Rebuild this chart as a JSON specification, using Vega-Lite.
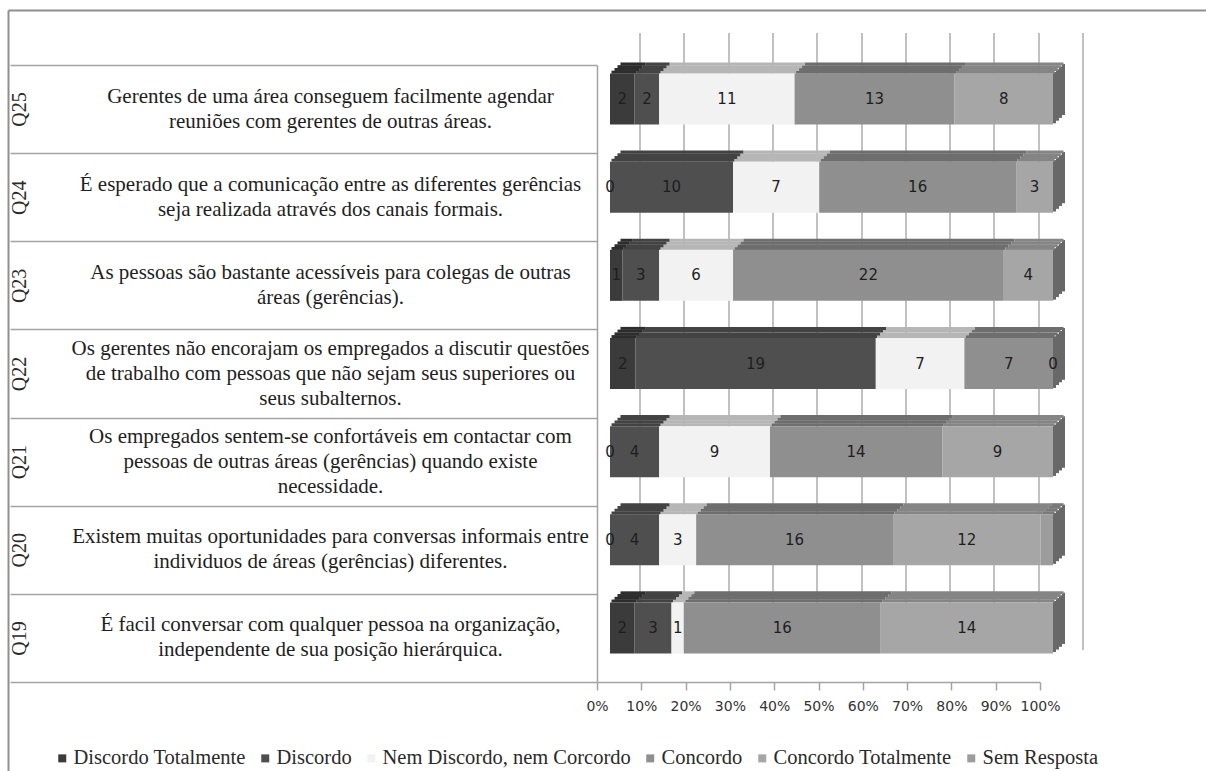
{
  "$schema": "https://vega.github.io/schema/vega-lite/v6.json",
  "width": 443,
  "height": 617,
  "autosize": "none",
  "padding": {"left": 597, "top": 65, "right": 166, "bottom": 89},
  "background": "white",
  "config": {"view": {"stroke": null}},
  "datasets": {
    "questions": [
      {"q": "Q25", "label": "Q25|Gerentes de uma área conseguem facilmente agendar|reuniões com gerentes de outras áreas."},
      {"q": "Q24", "label": "Q24|É esperado que a comunicação entre as diferentes gerências|seja realizada através dos canais formais."},
      {"q": "Q23", "label": "Q23|As pessoas são bastante acessíveis para colegas de outras|áreas (gerências)."},
      {"q": "Q22", "label": "Q22|Os gerentes não encorajam os empregados a discutir questões|de trabalho com pessoas que não sejam seus superiores ou|seus subalternos."},
      {"q": "Q21", "label": "Q21|Os empregados sentem-se confortáveis em contactar com|pessoas de outras áreas (gerências) quando existe|necessidade."},
      {"q": "Q20", "label": "Q20|Existem muitas oportunidades para conversas informais entre|individuos de áreas (gerências) diferentes."},
      {"q": "Q19", "label": "Q19|É facil conversar com qualquer pessoa na organização,|independente de sua posição hierárquica."}
    ]
  },
  "data": {"values": [
    {"q": "Q25", "cat": "Discordo Totalmente", "n": 2},
    {"q": "Q25", "cat": "Discordo", "n": 2},
    {"q": "Q25", "cat": "Nem Discordo, nem Corcordo", "n": 11},
    {"q": "Q25", "cat": "Concordo", "n": 13},
    {"q": "Q25", "cat": "Concordo Totalmente", "n": 8},
    {"q": "Q25", "cat": "Sem Resposta", "n": 0},
    {"q": "Q24", "cat": "Discordo Totalmente", "n": 0},
    {"q": "Q24", "cat": "Discordo", "n": 10},
    {"q": "Q24", "cat": "Nem Discordo, nem Corcordo", "n": 7},
    {"q": "Q24", "cat": "Concordo", "n": 16},
    {"q": "Q24", "cat": "Concordo Totalmente", "n": 3},
    {"q": "Q24", "cat": "Sem Resposta", "n": 0},
    {"q": "Q23", "cat": "Discordo Totalmente", "n": 1},
    {"q": "Q23", "cat": "Discordo", "n": 3},
    {"q": "Q23", "cat": "Nem Discordo, nem Corcordo", "n": 6},
    {"q": "Q23", "cat": "Concordo", "n": 22},
    {"q": "Q23", "cat": "Concordo Totalmente", "n": 4},
    {"q": "Q23", "cat": "Sem Resposta", "n": 0},
    {"q": "Q22", "cat": "Discordo Totalmente", "n": 2},
    {"q": "Q22", "cat": "Discordo", "n": 19},
    {"q": "Q22", "cat": "Nem Discordo, nem Corcordo", "n": 7},
    {"q": "Q22", "cat": "Concordo", "n": 7},
    {"q": "Q22", "cat": "Concordo Totalmente", "n": 0},
    {"q": "Q22", "cat": "Sem Resposta", "n": 0},
    {"q": "Q21", "cat": "Discordo Totalmente", "n": 0},
    {"q": "Q21", "cat": "Discordo", "n": 4},
    {"q": "Q21", "cat": "Nem Discordo, nem Corcordo", "n": 9},
    {"q": "Q21", "cat": "Concordo", "n": 14},
    {"q": "Q21", "cat": "Concordo Totalmente", "n": 9},
    {"q": "Q21", "cat": "Sem Resposta", "n": 0},
    {"q": "Q20", "cat": "Discordo Totalmente", "n": 0},
    {"q": "Q20", "cat": "Discordo", "n": 4},
    {"q": "Q20", "cat": "Nem Discordo, nem Corcordo", "n": 3},
    {"q": "Q20", "cat": "Concordo", "n": 16},
    {"q": "Q20", "cat": "Concordo Totalmente", "n": 12},
    {"q": "Q20", "cat": "Sem Resposta", "n": 1},
    {"q": "Q19", "cat": "Discordo Totalmente", "n": 2},
    {"q": "Q19", "cat": "Discordo", "n": 3},
    {"q": "Q19", "cat": "Nem Discordo, nem Corcordo", "n": 1},
    {"q": "Q19", "cat": "Concordo", "n": 16},
    {"q": "Q19", "cat": "Concordo Totalmente", "n": 14},
    {"q": "Q19", "cat": "Sem Resposta", "n": 0}
  ]},
  "transform": [
    {"lookup": "q", "from": {"data": {"name": "questions"}, "key": "q", "fields": ["label"]}},
    {"stack": "n", "groupby": ["q"], "offset": "normalize", "as": ["x0", "x1"]},
    {"calculate": "(datum.x0 + datum.x1) / 2", "as": "xm"}
  ],
  "layer": [
    {
      "layer": [
        {
          "transform": [{"filter": "datum.x1 > 0.9999"}],
          "mark": {"type": "bar", "height": 51, "yOffset": -11.4, "xOffset": 13, "x2Offset": 16, "color": "#686868"},
          "encoding": {
            "y": {"field": "label", "type": "nominal", "sort": null,
                  "scale": {"type": "band", "paddingInner": 0, "paddingOuter": 0},
                  "axis": {"orient": "left", "title": null, "domain": true, "domainColor": "#a3a3a3", "domainWidth": 1.5,
                           "ticks": true, "tickSize": 587, "tickBand": "extent", "tickColor": "#a3a3a3", "tickWidth": 1.5,
                           "labelExpr": "datum.value ? split(datum.value, '|')[0] : ''", "labelAngle": 270, "labelAlign": "center", "labelBaseline": "middle",
                           "labelPadding": -9, "labelFont": "Liberation Serif", "labelFontSize": 20, "labelColor": "#2a2a2a",
                           "labelOverlap": false, "labelFlush": false, "labelLimit": 0, "grid": false}},
            "x": {"field": "x1", "type": "quantitative",
                  "scale": {"domain": [0, 1], "nice": false, "zero": true},
                  "axis": {"orient": "bottom", "title": null, "grid": true, "gridColor": "#acacac", "gridWidth": 1.5,
                           "labels": false, "ticks": false, "domain": false,
                           "values": [0, 0.1, 0.2, 0.3, 0.4, 0.5, 0.6, 0.7, 0.8, 0.9, 1],
                           "tickOffset": 75, "translate": -32}},
            "x2": {"field": "x1"}
          }
        },
        {
          "transform": [{"filter": "datum.x1 > 0.9999"}],
          "mark": {"type": "bar", "height": 51, "yOffset": -14.1, "xOffset": 16, "x2Offset": 19, "color": "#686868"},
          "encoding": {
            "y": {"field": "label", "type": "nominal", "sort": null, "axis": null},
            "x": {"field": "x1", "type": "quantitative", "axis": null},
            "x2": {"field": "x1"}
          }
        },
        {
          "transform": [{"filter": "datum.x1 > 0.9999"}],
          "mark": {"type": "bar", "height": 51, "yOffset": -16.9, "xOffset": 19, "x2Offset": 22, "color": "#686868"},
          "encoding": {
            "y": {"field": "label", "type": "nominal", "sort": null, "axis": null},
            "x": {"field": "x1", "type": "quantitative", "axis": null},
            "x2": {"field": "x1"}
          }
        },
        {
          "transform": [{"filter": "datum.x1 > 0.9999"}],
          "mark": {"type": "bar", "height": 51, "yOffset": -19.6, "xOffset": 22, "x2Offset": 25, "color": "#686868"},
          "encoding": {
            "y": {"field": "label", "type": "nominal", "sort": null, "axis": null},
            "x": {"field": "x1", "type": "quantitative", "axis": null},
            "x2": {"field": "x1"}
          }
        },
        {
          "mark": {"type": "bar", "height": 3, "yOffset": -36.9, "xOffset": 14.5, "x2Offset": 14.5},
          "encoding": {
            "y": {"field": "label", "type": "nominal", "sort": null, "axis": null},
            "x": {"field": "x0", "type": "quantitative", "axis": null},
            "x2": {"field": "x1"},
            "color": {"field": "cat", "type": "nominal", "legend": null,
                      "scale": {"domain": ["Discordo Totalmente", "Discordo", "Nem Discordo, nem Corcordo", "Concordo", "Concordo Totalmente", "Sem Resposta"],
                                "range": ["#2d2d2d", "#434343", "#b6b6b6", "#6e6e6e", "#858585", "#7a7a7a"]}}
          }
        },
        {
          "mark": {"type": "bar", "height": 3, "yOffset": -39.6, "xOffset": 17.5, "x2Offset": 17.5},
          "encoding": {
            "y": {"field": "label", "type": "nominal", "sort": null, "axis": null},
            "x": {"field": "x0", "type": "quantitative", "axis": null},
            "x2": {"field": "x1"},
            "color": {"field": "cat", "type": "nominal", "legend": null,
                      "scale": {"domain": ["Discordo Totalmente", "Discordo", "Nem Discordo, nem Corcordo", "Concordo", "Concordo Totalmente", "Sem Resposta"],
                                "range": ["#2d2d2d", "#434343", "#b6b6b6", "#6e6e6e", "#858585", "#7a7a7a"]}}
          }
        },
        {
          "mark": {"type": "bar", "height": 3, "yOffset": -42.4, "xOffset": 20.5, "x2Offset": 20.5},
          "encoding": {
            "y": {"field": "label", "type": "nominal", "sort": null, "axis": null},
            "x": {"field": "x0", "type": "quantitative", "axis": null},
            "x2": {"field": "x1"},
            "color": {"field": "cat", "type": "nominal", "legend": null,
                      "scale": {"domain": ["Discordo Totalmente", "Discordo", "Nem Discordo, nem Corcordo", "Concordo", "Concordo Totalmente", "Sem Resposta"],
                                "range": ["#2d2d2d", "#434343", "#b6b6b6", "#6e6e6e", "#858585", "#7a7a7a"]}}
          }
        },
        {
          "mark": {"type": "bar", "height": 3, "yOffset": -45.1, "xOffset": 23.5, "x2Offset": 23.5},
          "encoding": {
            "y": {"field": "label", "type": "nominal", "sort": null, "axis": null},
            "x": {"field": "x0", "type": "quantitative", "axis": null},
            "x2": {"field": "x1"},
            "color": {"field": "cat", "type": "nominal", "legend": null,
                      "scale": {"domain": ["Discordo Totalmente", "Discordo", "Nem Discordo, nem Corcordo", "Concordo", "Concordo Totalmente", "Sem Resposta"],
                                "range": ["#2d2d2d", "#434343", "#b6b6b6", "#6e6e6e", "#858585", "#7a7a7a"]}}
          }
        },
        {
          "mark": {"type": "bar", "height": 51, "yOffset": -10, "xOffset": 13, "x2Offset": 13},
          "encoding": {
            "y": {"field": "label", "type": "nominal", "sort": null, "axis": null},
            "x": {"field": "x0", "type": "quantitative",
                  "axis": {"orient": "bottom", "title": null, "grid": false, "domain": true, "domainColor": "#a3a3a3", "domainWidth": 1.5,
                           "ticks": true, "tickSize": 8, "tickColor": "#a3a3a3", "tickWidth": 1.5,
                           "values": [0, 0.1, 0.2, 0.3, 0.4, 0.5, 0.6, 0.7, 0.8, 0.9, 1], "format": ".0%",
                           "labelFont": "DejaVu Sans", "labelFontSize": 14, "labelColor": "#333333", "labelPadding": 9,
                           "labelFlush": false, "labelOverlap": false}},
            "x2": {"field": "x1"},
            "color": {"field": "cat", "type": "nominal",
                      "scale": {"domain": ["Discordo Totalmente", "Discordo", "Nem Discordo, nem Corcordo", "Concordo", "Concordo Totalmente", "Sem Resposta"],
                                "range": ["#3b3b3b", "#4f4f4f", "#f2f2f2", "#8f8f8f", "#a6a6a6", "#9c9c9c"]},
                      "legend": {"orient": "none", "legendX": -545, "legendY": 683, "direction": "horizontal", "columns": 6,
                                 "title": null, "symbolType": "square", "symbolSize": 64, "symbolStrokeWidth": 0,
                                 "labelFont": "Liberation Serif", "labelFontSize": 20.5, "labelColor": "#2a2a2a",
                                 "labelOffset": 1, "columnPadding": 9, "labelLimit": 400}}
          }
        },
        {
          "transform": [{"filter": "datum.cat != 'Sem Resposta'"}],
          "mark": {"type": "text", "yOffset": -10, "xOffset": 13, "font": "DejaVu Sans", "fontSize": 15, "color": "#1e1e1e"},
          "encoding": {
            "y": {"field": "label", "type": "nominal", "sort": null,
                  "axis": {"orient": "left", "title": null, "domain": false, "ticks": false, "grid": false,
                           "labelExpr": "slice(split(datum.value, '|'), 1)", "labelAlign": "center", "labelBaseline": "middle",
                           "labelOffset": {"condition": {"test": "length(split(datum.value, '|')) > 3", "value": -25}, "value": -12.5},
                           "labelPadding": 267, "labelLineHeight": 25, "labelLimit": 700,
                           "labelFont": "Liberation Serif", "labelFontSize": 21, "labelColor": "#1e1e1e",
                           "labelOverlap": false, "labelFlush": false}},
            "x": {"field": "xm", "type": "quantitative", "axis": null},
            "text": {"field": "n", "type": "quantitative"}
          }
        }
      ],
      "resolve": {"axis": {"x": "independent", "y": "independent"}, "scale": {"color": "independent"}}
    },
    {
      "mark": {"type": "point", "opacity": 0},
      "encoding": {
        "x": {"field": "x1", "type": "quantitative",
              "scale": {"domain": [0, 1], "range": [-589, 640], "nice": false, "zero": false},
              "axis": {"orient": "top", "title": null, "offset": 55, "domain": true, "domainColor": "#8f8f8f", "domainWidth": 2,
                       "ticks": false, "labels": false, "grid": false}},
        "y": {"field": "x1", "type": "quantitative",
              "scale": {"domain": [0, 1], "range": [-55, 720], "nice": false, "zero": false},
              "axis": {"orient": "left", "title": null, "offset": 589, "domain": true, "domainColor": "#8f8f8f", "domainWidth": 2,
                       "ticks": false, "labels": false, "grid": false}}
      }
    }
  ],
  "resolve": {"scale": {"x": "independent", "y": "independent"}, "axis": {"x": "independent", "y": "independent"}}
}
